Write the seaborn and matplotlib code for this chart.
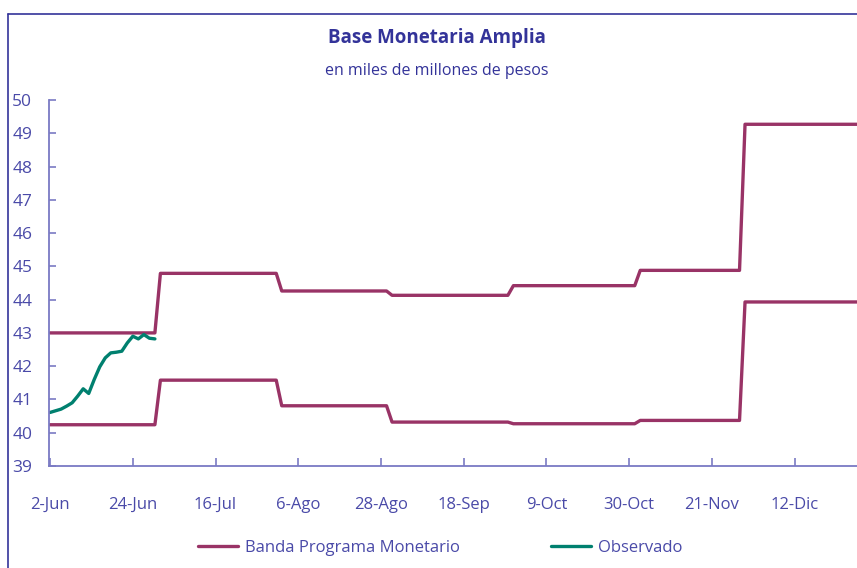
import numpy as np
import pandas as pd
import matplotlib
matplotlib.use('Agg')
import matplotlib.pyplot as plt
import seaborn as sns

sns.set_style('white')
plt.rcParams['font.family'] = ['Open Sans', 'DejaVu Sans']

# business-day index (0 = 2-Jun), band breakpoints
band_up_day = [0, 19, 20, 41, 42, 61, 62, 83, 84, 106, 107, 125, 126, 148]
band_up_val = [43.0, 43.0, 44.79, 44.79, 44.26, 44.26, 44.13, 44.13, 44.42, 44.42, 44.88, 44.88, 49.27, 49.27]

band_lo_day = [0, 19, 20, 41, 42, 61, 62, 83, 84, 106, 107, 125, 126, 148]
band_lo_val = [40.24, 40.24, 41.58, 41.58, 40.81, 40.81, 40.32, 40.32, 40.27, 40.27, 40.37, 40.37, 43.93, 43.93]

obs_day = list(range(20))
obs_val = [40.61, 40.66, 40.71, 40.80, 40.90, 41.10, 41.32, 41.18, 41.60, 41.98,
           42.25, 42.40, 42.42, 42.45, 42.70, 42.90, 42.82, 42.95, 42.84, 42.82]

tick_days = [0, 15, 30, 45, 60, 75, 90, 105, 120, 135]
tick_labels = ['2-Jun', '24-Jun', '16-Jul', '6-Ago', '28-Ago', '18-Sep', '9-Oct', '30-Oct', '21-Nov', '12-Dic']

maroon = '#993366'
teal = '#00806f'
navy = '#333399'
txt = '#4a4aa8'
axcol = '#7a7ac4'

fig = plt.figure(figsize=(8.57, 5.68), dpi=100)
ax = fig.add_axes([49 / 857, 102 / 568, (857 - 49) / 857, 366 / 568])

sns.lineplot(x=band_up_day, y=band_up_val, ax=ax, color=maroon, lw=2.4,
             label='Banda Programa Monetario')
sns.lineplot(x=band_lo_day, y=band_lo_val, ax=ax, color=maroon, lw=2.4)
sns.lineplot(x=obs_day, y=obs_val, ax=ax, color=teal, lw=2.4, label='Observado')

ax.set_xlim(-0.2, 146.3)
ax.set_ylim(39, 50)
ax.set_yticks(range(39, 51))
ax.set_xticks(tick_days)
ax.set_xticklabels(tick_labels)
ax.set_xlabel('')
ax.set_ylabel('')

for s in ['top', 'right']:
    ax.spines[s].set_visible(False)
for s in ['left', 'bottom']:
    ax.spines[s].set_color(axcol)
    ax.spines[s].set_linewidth(1.3)

ax.tick_params(axis='y', left=True, direction='in', length=5, width=1.2, color=axcol,
               labelsize=12.5, labelcolor=txt, pad=12)
ax.tick_params(axis='x', bottom=True, direction='in', length=6, width=1.2, color=axcol,
               labelsize=12, labelcolor=txt, pad=22)

handles, labels = ax.get_legend_handles_labels()
ax.get_legend().remove()
fig.legend(handles, labels, loc='center', bbox_to_anchor=(440 / 857, 20 / 568),
           ncol=2, frameon=False, fontsize=12, labelcolor=txt,
           handlelength=2.4, handletextpad=0.4, columnspacing=5.5)

fig.text(437 / 857, 1 - 38 / 568, 'Base Monetaria Amplia', ha='center', va='center',
         fontsize=13.5, fontweight='bold', color=navy)
fig.text(437 / 857, 1 - 71 / 568, 'en miles de millones de pesos', ha='center', va='center',
         fontsize=11.5, color=navy)

# outer frame of the original chart box
fig.add_artist(plt.Line2D([8 / 857, 1.0], [1 - 14 / 568, 1 - 14 / 568], color=navy, lw=1.2))
fig.add_artist(plt.Line2D([8 / 857, 8 / 857], [0, 1 - 14 / 568], color=navy, lw=1.2))

fig.savefig('out.png', dpi=100)
